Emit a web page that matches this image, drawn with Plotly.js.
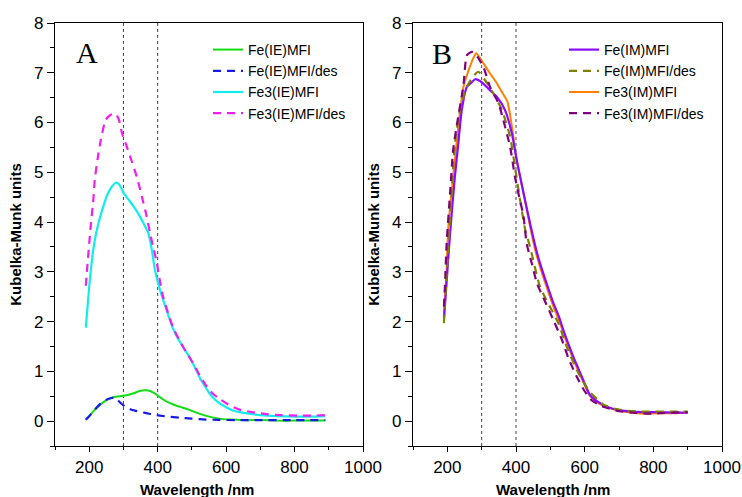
<!DOCTYPE html>
<html>
<head>
<meta charset="utf-8">
<script src="https://cdn.plot.ly/plotly-3.0.1.min.js"></script>
<style>html,body{margin:0;padding:0;background:#fff;}#chart{width:742px;height:497px;}</style>
</head>
<body>
<div id="chart"></div>
<script>
// ---------- Panel A (ion-exchanged samples) ----------
const feIE_x = [190, 200, 215, 234, 250, 262, 272, 290, 301, 315, 330, 345, 363, 380, 397, 415, 436, 455, 474, 495, 513, 535, 551, 570, 590, 610, 650, 700, 750, 800, 850, 890];
const feIE_y = [0.03, 0.10, 0.22, 0.34, 0.42, 0.46, 0.48, 0.50, 0.51, 0.53, 0.56, 0.60, 0.62, 0.60, 0.53, 0.44, 0.36, 0.31, 0.27, 0.22, 0.17, 0.12, 0.09, 0.06, 0.04, 0.03, 0.02, 0.02, 0.01, 0.01, 0.01, 0.01];

const feIEdes_x = [190, 200, 215, 234, 250, 262, 272, 282, 291, 305, 320, 334, 360, 397, 430, 464, 500, 540, 580, 628, 700, 800, 890];
const feIEdes_y = [0.03, 0.10, 0.22, 0.36, 0.43, 0.46, 0.47, 0.43, 0.37, 0.29, 0.24, 0.21, 0.17, 0.12, 0.09, 0.07, 0.05, 0.03, 0.025, 0.02, 0.02, 0.02, 0.02];

const fe3IE_x = [190, 200, 210, 218, 226, 236, 253, 265, 277, 287, 301, 315, 330, 345, 359, 373, 383, 392, 407, 426, 445, 460, 474, 490, 503, 515, 527, 540, 551, 565, 580, 600, 618, 640, 666, 700, 750, 800, 850, 890];
const fe3IE_y = [1.88, 2.70, 3.35, 3.70, 3.95, 4.20, 4.55, 4.70, 4.79, 4.76, 4.58, 4.45, 4.31, 4.15, 3.97, 3.77, 3.44, 3.04, 2.63, 2.23, 1.86, 1.65, 1.49, 1.32, 1.16, 0.99, 0.82, 0.68, 0.56, 0.45, 0.36, 0.28, 0.22, 0.18, 0.15, 0.12, 0.10, 0.09, 0.09, 0.10];

const fe3IEdes_x = [190, 195, 200, 205, 212, 216, 224, 234, 248, 262, 277, 287, 296, 308, 320, 339, 354, 368, 378, 387, 397, 407, 416, 430, 445, 464, 484, 503, 522, 541, 560, 580, 600, 618, 640, 675, 720, 760, 810, 850, 890];
const fe3IEdes_y = [2.72, 3.15, 3.57, 3.97, 4.44, 4.84, 5.25, 5.65, 6.05, 6.15, 6.18, 6.05, 5.78, 5.55, 5.31, 4.91, 4.51, 4.11, 3.77, 3.50, 3.20, 2.80, 2.50, 2.18, 1.88, 1.62, 1.38, 1.17, 0.93, 0.72, 0.56, 0.45, 0.36, 0.29, 0.23, 0.18, 0.14, 0.12, 0.11, 0.11, 0.12];

// ---------- Panel B (impregnated samples) ----------
const feIM_x = [190, 196, 203, 213, 222, 232, 242, 257, 271, 281, 300, 324, 344, 368, 388, 402, 422, 441, 459, 470, 490, 509, 525, 538, 552, 567, 582, 596, 616, 640, 665, 700, 740, 780, 820, 860, 900];
const feIM_y = [2.08, 2.60, 3.30, 4.20, 4.91, 5.58, 6.25, 6.72, 6.81, 6.87, 6.81, 6.65, 6.52, 6.25, 5.78, 5.25, 4.58, 3.97, 3.44, 3.17, 2.75, 2.37, 2.10, 1.83, 1.56, 1.29, 1.05, 0.82, 0.52, 0.38, 0.29, 0.22, 0.19, 0.18, 0.18, 0.17, 0.17];

const feIMdes_x = [190, 196, 203, 212, 222, 237, 257, 271, 290, 310, 329, 359, 383, 397, 412, 427, 441, 470, 499, 524, 548, 577, 596, 616, 640, 655, 680, 720, 760, 800, 850, 900];
const feIMdes_y = [1.97, 2.70, 3.50, 4.50, 5.58, 6.25, 6.72, 6.89, 7.02, 6.85, 6.65, 6.25, 5.71, 5.11, 4.44, 3.84, 3.50, 2.70, 2.30, 1.96, 1.49, 1.03, 0.79, 0.58, 0.42, 0.33, 0.26, 0.21, 0.19, 0.19, 0.19, 0.19];

const fe3IM_x = [190, 197, 203, 217, 232, 247, 262, 276, 284, 295, 305, 324, 344, 360, 375, 388, 402, 422, 441, 456, 470, 490, 509, 525, 538, 552, 567, 582, 596, 616, 640, 665, 700, 740, 780, 820, 860, 900];
const fe3IM_y = [2.00, 2.90, 3.91, 4.91, 5.92, 6.72, 7.05, 7.30, 7.39, 7.30, 7.19, 6.99, 6.79, 6.60, 6.42, 5.92, 5.25, 4.58, 3.91, 3.44, 3.10, 2.68, 2.30, 2.03, 1.77, 1.50, 1.24, 1.00, 0.79, 0.50, 0.36, 0.28, 0.21, 0.17, 0.15, 0.16, 0.16, 0.17];

const fe3IMdes_x = [190, 193, 198, 208, 217, 227, 247, 257, 271, 280, 290, 305, 324, 349, 363, 383, 397, 407, 422, 431, 446, 461, 485, 509, 534, 553, 577, 600, 620, 650, 700, 740, 780, 820, 860, 900];
const fe3IMdes_y = [2.30, 2.70, 3.57, 4.58, 5.45, 5.92, 6.75, 7.35, 7.42, 7.40, 7.30, 7.12, 6.72, 6.39, 6.05, 5.51, 4.91, 4.58, 4.11, 3.57, 3.17, 2.77, 2.40, 2.03, 1.63, 1.26, 0.89, 0.60, 0.42, 0.30, 0.20, 0.17, 0.15, 0.16, 0.17, 0.18];

const markerLines = [300, 400];
const tickVals = [200, 400, 600, 800, 1000];

const DASH = '8px,6px';
const traces = [
  {x: feIE_x, y: feIE_y, name: 'Fe(IE)MFI', legendrank: 1, line: {color: '#11dd11', width: 2}},
  {x: feIEdes_x, y: feIEdes_y, name: 'Fe(IE)MFI/des', legendrank: 2, line: {color: '#1a1ae6', width: 2.2, dash: DASH}},
  {x: fe3IE_x, y: fe3IE_y, name: 'Fe3(IE)MFI', legendrank: 3, line: {color: '#12ecec', width: 2.2}},
  {x: fe3IEdes_x, y: fe3IEdes_y, name: 'Fe3(IE)MFI/des', legendrank: 4, line: {color: '#f01ef0', width: 2.2, dash: DASH}},
  {x: feIM_x, y: feIM_y, name: 'Fe(IM)MFI', legendrank: 1, xaxis: 'x2', yaxis: 'y2', legend: 'legend2', line: {color: '#8a0cff', width: 2.2}},
  {x: feIMdes_x, y: feIMdes_y, name: 'Fe(IM)MFI/des', legendrank: 2, xaxis: 'x2', yaxis: 'y2', legend: 'legend2', line: {color: '#808000', width: 2.2, dash: DASH}},
  {x: fe3IM_x, y: fe3IM_y, name: 'Fe3(IM)MFI', legendrank: 3, xaxis: 'x2', yaxis: 'y2', legend: 'legend2', line: {color: '#ff8000', width: 2}},
  {x: fe3IMdes_x, y: fe3IMdes_y, name: 'Fe3(IM)MFI/des', legendrank: 4, xaxis: 'x2', yaxis: 'y2', legend: 'legend2', line: {color: '#800080', width: 2.2, dash: DASH}}
].map(t => Object.assign({type: 'scatter', mode: 'lines'}, t));
traces.forEach(t => { t.line.shape = 'spline'; t.line.smoothing = 0.6; });
// drawing order (legend order is fixed by legendrank)
const order = [0, 1, 2, 3, 6, 4, 5, 7];
const data = order.map(i => traces[i]);

const FONT = 'Liberation Sans, Arial, sans-serif';
function xAx(domain, anchor) {
  return {domain: domain, anchor: anchor, range: [100, 1000], tickvals: tickVals, ticks: 'outside', ticklen: 5, tickwidth: 1,
    minor: {dtick: 100, tick0: 0, ticks: 'outside', ticklen: 3, tickwidth: 1, tickcolor: '#000'},
    showline: true, mirror: true, linecolor: '#000', linewidth: 1.2, showgrid: false, zeroline: false,
    tickfont: {family: FONT, size: 17, color: '#000'}, tickcolor: '#000'};
}
function yAx(anchor) {
  return {domain: [0, 1], anchor: anchor, range: [-0.5, 8], dtick: 1, tick0: 0, ticks: 'outside', ticklen: 7, tickwidth: 1,
    minor: {dtick: 0.5, tick0: 0, ticks: 'outside', ticklen: 4, tickwidth: 1, tickcolor: '#000'},
    showline: true, mirror: true, linecolor: '#000', linewidth: 1.2, showgrid: false, zeroline: false,
    tickfont: {family: FONT, size: 17, color: '#000'}, tickcolor: '#000',
    title: {text: '<b>Kubelka-Munk units</b>', font: {family: FONT, size: 15, color: '#000'}, standoff: 8}};
}

const shapes = [];
['x', 'x2'].forEach(xr => markerLines.forEach(v => shapes.push({
  type: 'line', xref: xr, yref: (xr === 'x' ? 'y' : 'y2') + ' domain', x0: v, x1: v, y0: 0, y1: 1,
  line: {color: '#444', width: 1, dash: 'dot'}, layer: 'below'})));

const W = 742, H = 497, ML = 55, MR = 20, MT = 23, MB = 51;
const pw = W - ML - MR, ph = H - MT - MB;
const px = v => (v - ML) / pw;
const py = v => (H - MB - v) / ph;

const legendStyle = {xanchor: 'left', yanchor: 'top', bgcolor: 'rgba(0,0,0,0)', borderwidth: 0,
  font: {family: FONT, size: 14, color: '#000'}, tracegroupgap: 0, itemwidth: 30};

const layout = {
  width: W, height: H,
  margin: {l: ML, r: MR, t: MT, b: MB, pad: 0},
  paper_bgcolor: '#fff', plot_bgcolor: '#fff',
  showlegend: true,
  xaxis: xAx([0, px(363)], 'y'),
  yaxis: yAx('x'),
  xaxis2: xAx([px(413), 1], 'y2'),
  yaxis2: yAx('x2'),
  legend: Object.assign({x: px(208), y: py(34)}, legendStyle),
  legend2: Object.assign({x: px(564), y: py(34)}, legendStyle),
  shapes: shapes,
  annotations: [
    {text: 'A', xref: 'paper', yref: 'paper', x: px(87), y: py(52), showarrow: false, xanchor: 'center', yanchor: 'middle',
      font: {family: 'Liberation Serif, Times New Roman, serif', size: 30, color: '#000'}},
    {text: 'B', xref: 'paper', yref: 'paper', x: px(442), y: py(53), showarrow: false, xanchor: 'center', yanchor: 'middle',
      font: {family: 'Liberation Serif, Times New Roman, serif', size: 30, color: '#000'}},
    {text: '<b>Wavelength /nm</b>', xref: 'paper', yref: 'paper', x: px(197), y: py(490), showarrow: false, xanchor: 'center', yanchor: 'middle',
      font: {family: FONT, size: 15, color: '#000'}},
    {text: '<b>Wavelength /nm</b>', xref: 'paper', yref: 'paper', x: px(553), y: py(490), showarrow: false, xanchor: 'center', yanchor: 'middle',
      font: {family: FONT, size: 15, color: '#000'}}
  ]
};

Plotly.newPlot('chart', data, layout, {displayModeBar: false, staticPlot: true});
</script>
</body>
</html>
